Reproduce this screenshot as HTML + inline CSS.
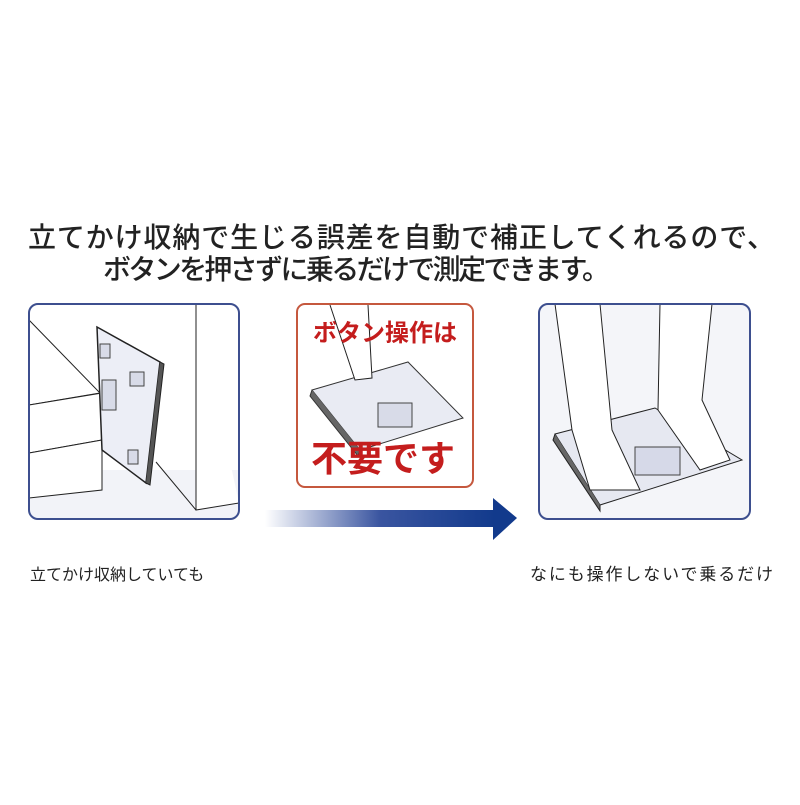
<!DOCTYPE html>
<html><head><meta charset="utf-8"><style>
body{margin:0;background:#fff;width:800px;height:800px;overflow:hidden;font-family:"Liberation Sans","Noto Sans CJK JP",sans-serif}
</style></head><body>
<svg width="800" height="800" viewBox="0 0 800 800" xmlns="http://www.w3.org/2000/svg" font-family="'Liberation Sans','Noto Sans CJK JP',sans-serif">
<defs>
<linearGradient id="ag" x1="0" x2="1"><stop offset="0" stop-color="#fff"/><stop offset="0.5" stop-color="#3a55a0"/><stop offset="1" stop-color="#123a8c"/></linearGradient>
<clipPath id="c1"><rect x="29" y="304" width="210" height="215" rx="9"/></clipPath>
<clipPath id="c3"><rect x="539" y="304" width="211" height="215" rx="9"/></clipPath>
</defs>
<text x="28" y="247" font-size="28" font-weight="500" fill="#222" textLength="747" lengthAdjust="spacing">立てかけ収納で生じる誤差を自動で補正してくれるので、</text>
<text x="103" y="279" font-size="28" font-weight="500" fill="#222" textLength="507" lengthAdjust="spacing">ボタンを押さずに乗るだけで測定できます。</text>

<!-- left panel -->
<g clip-path="url(#c1)" stroke="#222" stroke-width="1" fill="none">
<rect x="29" y="304" width="210" height="215" fill="#fff"/>
<rect x="29" y="470" width="210" height="50" fill="#f2f3f8" stroke="none"/>
<path d="M29 320 L100 393 L29 405 Z" fill="#fff"/>
<path d="M29 405 L102 393 L102 440 L29 453 Z" fill="#fff"/>
<path d="M29 453 L102 440 L102 490 L29 498 Z" fill="#fff"/>
<path d="M196 304 L196 510 L239 503" fill="#fff"/>
<path d="M156 462 L196 510"/>
<path d="M97 327 L160 362 L146 483 L102 450 Z" fill="#eceef6" stroke-width="1.5"/>
<path d="M160 362 L164 364 L150 485 L146 483" fill="#555"/>
<rect x="102" y="380" width="14" height="30" fill="#d8dbe8" stroke="#444"/>
<rect x="100" y="344" width="10" height="14" fill="#d8dbe8" stroke="#444"/>
<rect x="130" y="372" width="14" height="14" fill="#d8dbe8" stroke="#444"/>
<rect x="128" y="450" width="10" height="14" fill="#d8dbe8" stroke="#444"/>
</g>
<rect x="29" y="304" width="210" height="215" rx="9" fill="none" stroke="#3d4f8f" stroke-width="2"/>

<!-- middle panel -->
<rect x="297" y="304" width="176" height="183" rx="8" fill="#fff" stroke="#c5583e" stroke-width="2"/>
<path d="M312 390 L408 362 L463 418 L360 450 Z" fill="#e9ebf3" stroke="#333"/>
<path d="M312 390 L310 396 L358 456 L360 450" fill="#666" stroke="#333"/>
<rect x="378" y="403" width="34" height="24" fill="#d8dbe8" stroke="#444"/>
<path d="M330 305 L355 380 L372 378 L368 305" fill="#fff" stroke="#222"/>
<text x="385" y="341" font-size="24" font-weight="bold" fill="#c41d1d" text-anchor="middle">ボタン操作は</text>
<text x="383" y="471" font-size="36" font-weight="bold" fill="#c41d1d" text-anchor="middle">不要です</text>

<!-- right panel -->
<g clip-path="url(#c3)" stroke="#222" stroke-width="1" fill="none">
<rect x="539" y="304" width="211" height="215" fill="#f4f5f9"/>
<path d="M555 434 L655 408 L742 460 L600 505 Z" fill="#e6e8f1"/>
<path d="M555 434 L553 440 L600 511 L600 505" fill="#666"/>
<rect x="635" y="447" width="45" height="28" fill="#d6d9e8" stroke="#444"/>
<path d="M555 304 L572 430 L590 490 L640 490 L612 430 L600 304" fill="#fff"/>
<path d="M660 304 L658 410 L700 470 L730 460 L702 400 L712 304" fill="#fff"/>
</g>
<rect x="539" y="304" width="211" height="215" rx="9" fill="none" stroke="#3d4f8f" stroke-width="2"/>

<!-- arrow -->
<rect x="265" y="510" width="230" height="17" fill="url(#ag)"/>
<path d="M493 498 L517 518 L493 540 Z" fill="#123a8c"/>

<text x="30" y="580" font-size="16" fill="#222">立てかけ収納していても</text>
<text x="530" y="580" font-size="17" fill="#222" textLength="243" lengthAdjust="spacing">なにも操作しないで乗るだけ</text>
</svg>
</body></html>
